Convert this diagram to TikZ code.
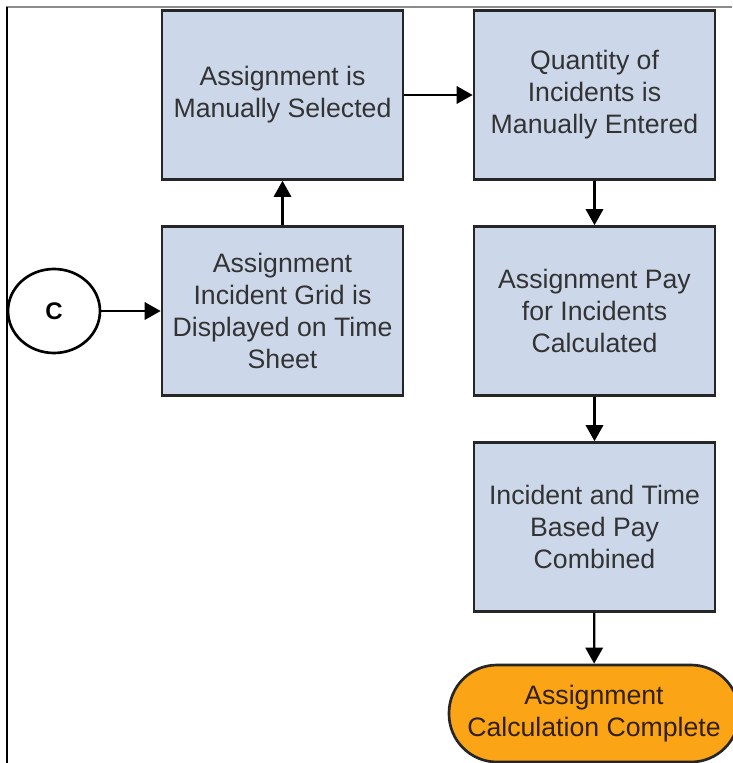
\documentclass[tikz,border=0pt]{standalone}
\usepackage{fontspec}
\setmainfont{Liberation Sans}
\usetikzlibrary{arrows.meta,shapes.geometric}
\usepackage{xcolor}
\definecolor{boxblue}{HTML}{CCD8EA}
\definecolor{endorange}{HTML}{FBA416}
\definecolor{textgray}{HTML}{333333}

\begin{document}
\begin{tikzpicture}[x=0.75pt,y=-0.75pt,>={Triangle[length=12pt,width=13pt]},line width=1.7pt,
  stepbox/.style={draw=black!85,line width=2pt,fill=boxblue,minimum width=180.75pt,minimum height=126.75pt,
    inner sep=0pt,align=center,text=textgray,font=\fontsize{20}{24}\selectfont},
  endbox/.style={draw=black!85,line width=2pt,fill=endorange,minimum width=217.5pt,minimum height=72.75pt,
    rounded corners=36pt,inner sep=0pt,align=center,text=black!75!brown,font=\fontsize{20}{24}\selectfont},
  connbox/.style={draw=black,line width=2pt,fill=white,ellipse,minimum width=69pt,minimum height=63pt,
    inner sep=0pt,font=\fontsize{18}{20}\selectfont\bfseries}]
\useasboundingbox (0,0) rectangle (732,763);
\draw[black!45,line width=1pt] (6,7) -- (732,7);
\draw[black,line width=1.5pt] (6.5,7) -- (6.5,763);
\node[stepbox] (selected) at (282.5,95) {Assignment is\\Manually Selected};
\node[stepbox] (entered) at (594.5,95) {Quantity of\\Incidents is\\Manually Entered};
\node[stepbox] (grid) at (282.5,311) {Assignment\\Incident Grid is\\Displayed on Time\\Sheet};
\node[stepbox] (paycalc) at (594.5,311) {Assignment Pay\\for Incidents\\Calculated};
\node[stepbox] (combined) at (594.5,527) {Incident and Time\\Based Pay\\Combined};
\node[endbox] (complete) at (594,713.5) {Assignment\\Calculation Complete};
\node[connbox] (conn) at (54,311) {C};
\draw[->] (conn) -- (grid);
\draw[->] (grid) -- (selected);
\draw[->] (selected) -- (entered);
\draw[->] (entered) -- (paycalc);
\draw[->] (paycalc) -- (combined);
\draw[->] (combined) -- (complete);
\end{tikzpicture}
\end{document}
